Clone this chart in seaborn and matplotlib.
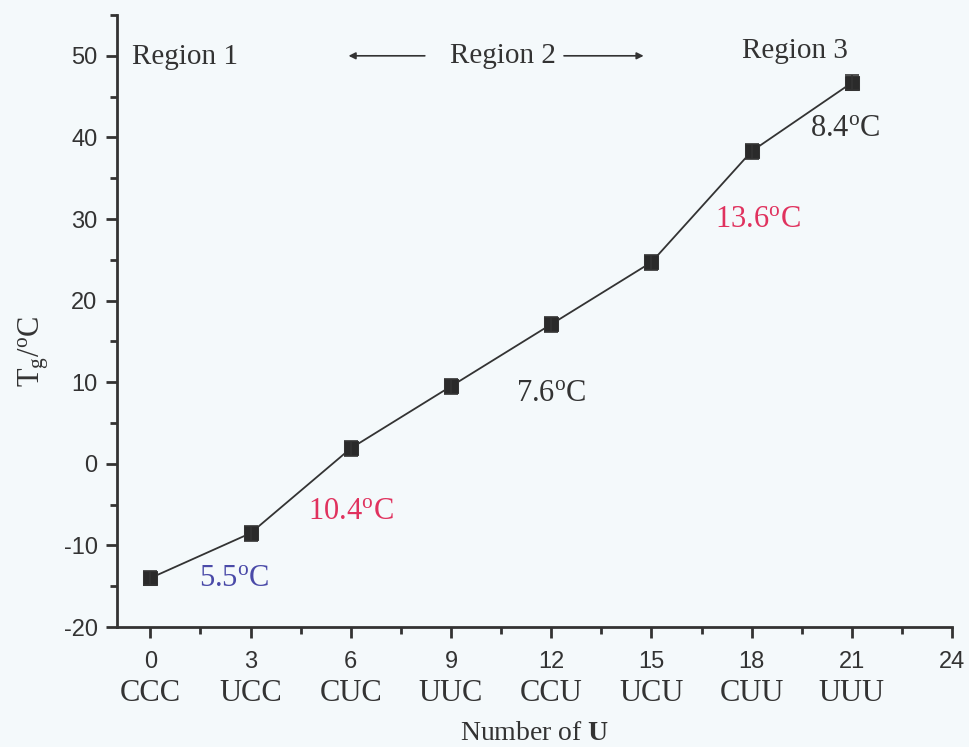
import matplotlib
matplotlib.use("Agg")
import matplotlib.pyplot as plt
import matplotlib.transforms as mtransforms
from matplotlib.ticker import MultipleLocator
import seaborn as sns
import pandas as pd

# Glass transition temperature vs. number of U units in the triad
n_u = [0, 3, 6, 9, 12, 15, 18, 21]
sequence = ["CCC", "UCC", "CUC", "UUC", "CCU", "UCU", "CUU", "UUU"]
tg = [-14.0, -8.5, 1.9, 9.5, 17.1, 24.7, 38.3, 46.7]
tg_err = [0.9, 0.9, 0.9, 0.9, 0.9, 0.9, 0.9, 0.9]

# Step annotations (label, position, colour)
step_labels = ["5.5", "10.4", "7.6", "13.6", "8.4"]
step_x = [2.5, 6.0, 12.0, 18.2, 20.8]
step_y = [-14.0, -5.9, 8.6, 30.0, 41.1]
step_colors = ["#4a4aa8", "#e0325e", "#333333", "#e0325e", "#333333"]

region_labels = ["Region 1", "Region 2", "Region 3"]
region_x = [1.05, 10.57, 19.3]
region_y = [49.8, 50.0, 50.6]

bg = "#f4f9fb"
ink = "#333333"

sns.set_theme(style="ticks")
plt.rcParams["font.family"] = ["Liberation Serif", "DejaVu Serif"]
plt.rcParams["mathtext.fontset"] = "custom"
plt.rcParams["mathtext.rm"] = "Liberation Serif"
plt.rcParams["mathtext.it"] = "Liberation Serif:italic"
plt.rcParams["mathtext.bf"] = "Liberation Serif:bold"
plt.rcParams["axes.unicode_minus"] = False

df = pd.DataFrame({"n": n_u, "tg": tg, "err": tg_err})

fig = plt.figure(figsize=(9.69, 7.47), dpi=100, facecolor=bg)
ax = fig.add_axes([0.1207, 0.1606, 0.8618, 0.8193])
ax.set_facecolor(bg)

sns.lineplot(data=df, x="n", y="tg", ax=ax, color=ink, linewidth=1.3,
             marker="s", markersize=10, markeredgecolor=ink, markerfacecolor="#2a2a2a")
ax.errorbar(df["n"], df["tg"], yerr=df["err"], fmt="none", ecolor=ink,
            elinewidth=1.2, capsize=5, capthick=1.2)

ax.set_xlim(-1, 24)
ax.set_ylim(-20, 55)
ax.set_yticks(range(-20, 51, 10))
ax.set_xticks(range(0, 25, 3))
ax.xaxis.set_minor_locator(MultipleLocator(1.5))
ax.yaxis.set_minor_locator(MultipleLocator(5))

for side in ("top", "right"):
    ax.spines[side].set_visible(False)
for side in ("left", "bottom"):
    ax.spines[side].set_color(ink)
    ax.spines[side].set_linewidth(2.0)

ax.tick_params(axis="both", which="major", direction="out", length=8, width=2,
               color=ink, labelcolor=ink, labelsize=17, pad=6)
ax.tick_params(axis="x", which="major", pad=9)
ax.tick_params(axis="both", which="minor", direction="out", length=5, width=2, color=ink)
for lab in ax.get_xticklabels() + ax.get_yticklabels():
    lab.set_fontfamily(["Liberation Sans", "DejaVu Sans"])

# Sequence names under the numeric ticks
trans = mtransforms.blended_transform_factory(ax.transData, ax.transAxes)
for x, s in zip(n_u, sequence):
    ax.text(x, -0.108, s, transform=trans, ha="center", va="center",
            fontsize=22, color=ink)

ax.set_xlabel(r"Number of $\mathbf{U}$", fontsize=20, color=ink, va="center")
ax.xaxis.set_label_coords(0.5, -0.174)
ax.set_ylabel(r"T$_\mathrm{g}$/$^\mathrm{o}$C", fontsize=22, color=ink, va="center")
ax.yaxis.set_label_coords(-0.1, 0.45)

for lab, x, y in zip(region_labels, region_x, region_y):
    ax.text(x, y, lab, ha="center", va="center", fontsize=21, color=ink)

# Arrows framing Region 2
ax.annotate("", xy=(5.85, 50.0), xytext=(8.3, 50.0),
            arrowprops=dict(arrowstyle="-|>", color=ink, lw=1.2, mutation_scale=10))
ax.annotate("", xy=(14.85, 50.0), xytext=(12.3, 50.0),
            arrowprops=dict(arrowstyle="-|>", color=ink, lw=1.2, mutation_scale=10))

for lab, x, y, c in zip(step_labels, step_x, step_y, step_colors):
    ax.text(x, y, lab + r"$^\mathrm{o}$C", ha="center", va="center",
            fontsize=22, color=c)

fig.savefig("out.png", dpi=100, facecolor=bg)
